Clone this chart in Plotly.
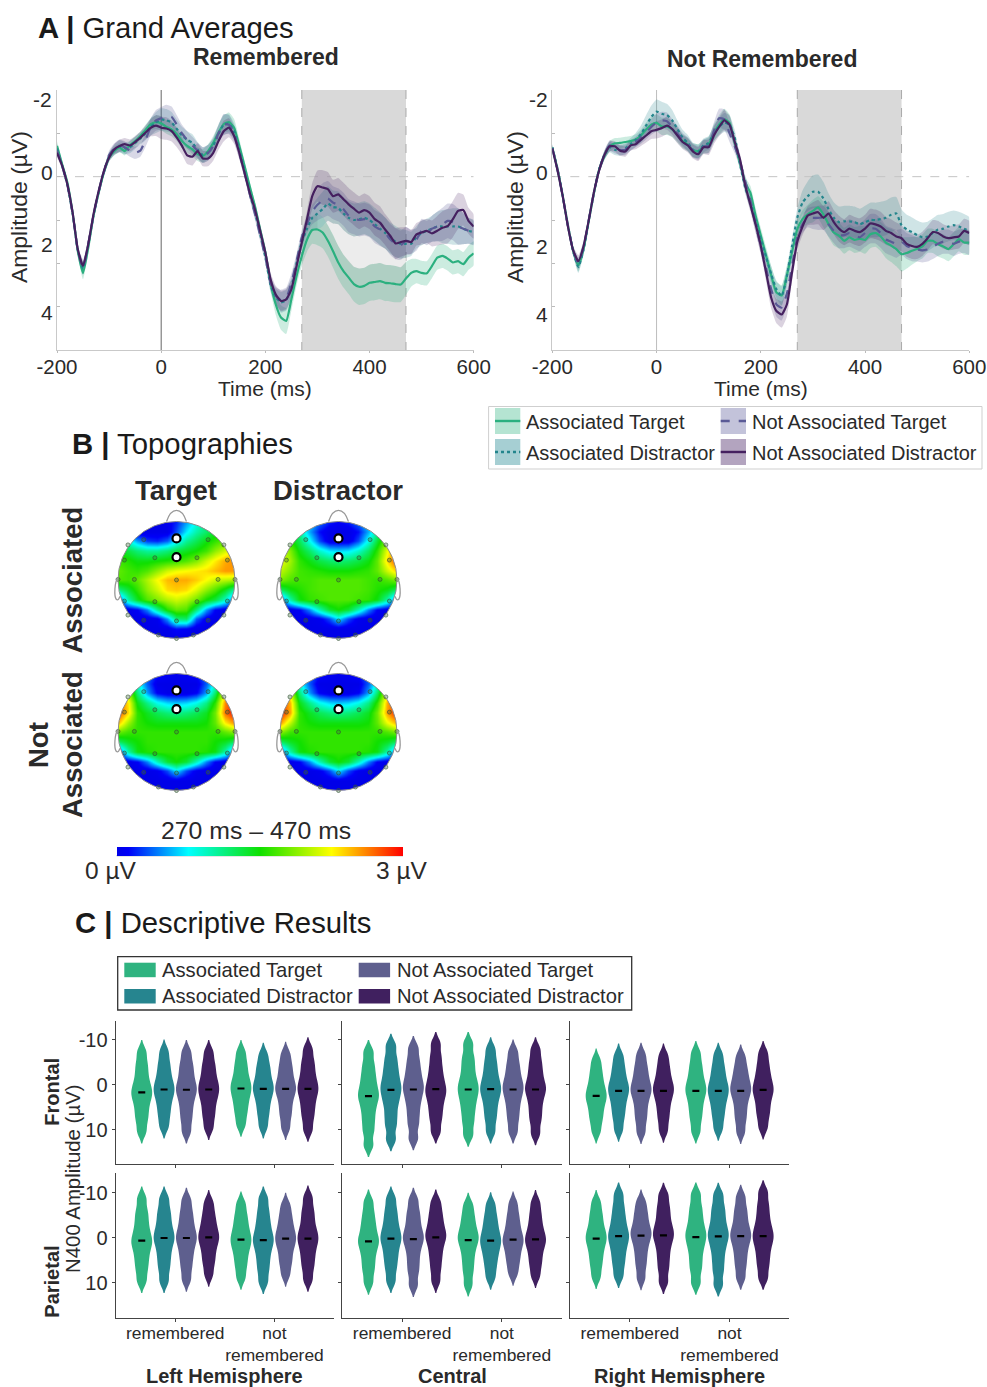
import math
import plotly.graph_objects as go

W, H = 987, 1387
FONT = "Liberation Sans"
INK = "#2a2a2a"

time_ms = list(range(-200, 601, 10))
time_ticks = [-200, 0, 200, 400, 600]
time_tick_labels = ["-200", "0", "200", "400", "600"]
window_start, window_end = 270, 470

rem_at = [-0.71,-0.28,0.14,0.83,1.72,2.22,1.64,0.91,0.37,-0.09,
          -0.44,-0.59,-0.67,-0.59,-0.73,-0.82,-0.94,-1.08,-1.21,-1.26,
          -1.23,-1.15,-1.09,-0.98,-0.82,-0.71,-0.63,-0.52,-0.48,-0.59,
          -0.78,-1.02,-1.21,-1.26,-1.13,-0.71,-0.25,0.22,0.68,1.22,
          1.75,2.45,2.95,3.25,3.33,2.83,2.29,1.83,1.45,1.23,
          1.22,1.29,1.48,1.72,1.98,2.18,2.33,2.48,2.54,2.52,
          2.45,2.43,2.41,2.45,2.46,2.48,2.49,2.35,2.22,2.18,
          2.22,2.23,2.06,1.87,1.83,1.89,1.98,1.95,2.02,1.87,1.77]
rem_ad = [-0.65,-0.25,0.2,0.85,1.7,2.12,1.58,0.9,0.35,-0.12,
          -0.46,-0.62,-0.7,-0.66,-0.68,-0.78,-0.88,-1.0,-1.15,-1.25,
          -1.32,-1.3,-1.25,-1.1,-0.95,-0.85,-0.78,-0.62,-0.5,-0.55,
          -0.72,-0.98,-1.2,-1.22,-1.05,-0.62,-0.15,0.38,0.82,1.32,
          1.85,2.5,2.78,2.9,2.85,2.55,2.0,1.5,1.2,0.95,
          0.85,0.75,0.62,0.7,0.72,0.85,0.95,1.0,0.98,0.95,
          1.0,1.1,1.2,1.3,1.42,1.5,1.55,1.55,1.55,1.4,
          1.3,1.25,1.2,1.15,1.15,1.15,1.15,1.15,1.2,1.25,1.28]
rem_nat = [-0.6,-0.25,0.2,0.85,1.7,2.1,1.55,0.9,0.35,-0.1,
           -0.5,-0.65,-0.72,-0.68,-0.6,-0.55,-0.6,-0.85,-1.15,-1.3,
           -1.35,-1.4,-1.38,-1.2,-1.0,-0.85,-0.72,-0.6,-0.5,-0.55,
           -0.7,-1.0,-1.2,-1.2,-1.0,-0.55,-0.1,0.4,0.85,1.35,
           1.85,2.45,2.75,2.85,2.8,2.45,1.95,1.4,1.1,0.8,
           0.65,0.55,0.5,0.6,0.65,0.75,0.9,0.95,1.0,0.98,
           1.02,1.15,1.22,1.3,1.45,1.55,1.58,1.48,1.5,1.45,
           1.25,1.3,1.2,1.15,1.1,1.02,1.05,1.15,1.2,1.25,1.3]
rem_nad = [-0.55,-0.25,0.18,0.83,1.68,2.06,1.56,0.87,0.33,-0.13,
           -0.44,-0.63,-0.71,-0.75,-0.72,-0.8,-0.9,-1.02,-1.13,-1.18,
           -1.13,-1.11,-1.05,-0.9,-0.71,-0.49,-0.46,-0.59,-0.42,-0.42,
           -0.55,-0.82,-1.05,-1.13,-0.94,-0.55,-0.09,0.37,0.75,1.25,
           1.75,2.37,2.72,2.87,2.83,2.6,2.06,1.52,0.98,0.45,
           0.22,0.25,0.29,0.45,0.41,0.52,0.64,0.74,0.83,0.77,
           0.83,0.98,1.06,1.22,1.37,1.54,1.51,1.48,1.51,1.33,
           1.29,1.25,1.31,1.25,1.18,1.14,0.98,0.79,0.77,1.02,1.15]

not_at = [-0.67,-0.17,0.44,1.13,1.71,2.05,1.67,1.02,0.37,-0.17,
          -0.48,-0.7,-0.77,-0.78,-0.8,-0.82,-0.86,-0.95,-1.09,-1.2,
          -1.24,-1.16,-1.16,-1.09,-0.97,-0.82,-0.74,-0.61,-0.59,-0.69,
          -0.74,-1.01,-1.2,-1.33,-1.24,-0.78,-0.32,0.14,0.37,0.9,
          1.36,1.82,2.28,2.67,2.74,2.28,1.74,1.21,0.98,0.87,
          0.79,0.71,0.87,1.1,1.29,1.36,1.48,1.4,1.46,1.43,
          1.46,1.33,1.3,1.38,1.52,1.59,1.67,1.79,1.76,1.71,
          1.67,1.61,1.48,1.48,1.56,1.61,1.67,1.56,1.44,1.52,1.52]
not_ad = [-0.68,-0.18,0.44,1.12,1.72,2.08,1.68,1.02,0.36,-0.18,
          -0.5,-0.68,-0.62,-0.6,-0.65,-0.75,-0.85,-0.98,-1.18,-1.38,
          -1.5,-1.45,-1.42,-1.3,-1.1,-0.9,-0.78,-0.62,-0.58,-0.72,
          -0.78,-1.0,-1.15,-1.25,-1.2,-0.9,-0.3,0.25,0.6,1.0,
          1.45,1.85,2.25,2.6,2.75,2.3,1.6,0.95,0.6,0.45,
          0.35,0.35,0.5,0.75,0.95,1.05,1.03,1.03,1.05,1.1,
          1.05,1.0,1.0,0.98,0.95,0.88,0.85,1.12,1.22,1.28,
          1.35,1.4,1.38,1.3,1.22,1.2,1.15,1.12,1.15,1.2,1.25]
not_nat = [-0.66,-0.16,0.45,1.14,1.7,2.0,1.62,1.0,0.36,-0.15,
           -0.5,-0.72,-0.66,-0.62,-0.62,-0.72,-0.8,-0.9,-1.02,-1.15,
           -1.25,-1.3,-1.28,-1.15,-1.0,-0.85,-0.75,-0.6,-0.55,-0.7,
           -0.72,-1.05,-1.35,-1.32,-1.0,-0.7,-0.35,0.1,0.55,1.1,
           1.6,2.1,2.6,2.95,3.02,2.7,2.05,1.4,1.1,0.95,
           0.95,0.95,0.95,1.1,1.25,1.35,1.35,1.3,1.35,1.4,
           1.3,1.2,1.2,1.3,1.45,1.5,1.55,1.5,1.6,1.65,
           1.68,1.7,1.68,1.62,1.55,1.5,1.5,1.55,1.5,1.48,1.52]
not_nad = [-0.65,-0.15,0.45,1.15,1.7,1.95,1.6,1.0,0.35,-0.15,
           -0.5,-0.7,-0.7,-0.6,-0.58,-0.72,-0.75,-0.85,-0.95,-1.05,
           -1.08,-1.12,-1.18,-1.1,-0.95,-0.8,-0.72,-0.58,-0.52,-0.68,
           -0.68,-0.95,-1.15,-1.3,-1.2,-0.8,-0.4,0.2,0.65,1.1,
           1.6,2.2,2.8,3.1,3.18,2.95,2.2,1.5,1.15,0.9,
           0.85,0.82,0.95,0.85,1.05,1.2,1.28,1.2,1.25,1.28,
           1.2,1.08,1.1,1.15,1.25,1.3,1.38,1.42,1.55,1.6,
           1.62,1.55,1.42,1.28,1.3,1.38,1.42,1.4,1.38,1.25,1.3]

sem_rem_green = [.1,.08,.08,.08,.1,.15,.12,.1,.08,.08,
                 .08,.1,.1,.1,.1,.1,.1,.12,.14,.16,
                 .16,.16,.16,.16,.16,.16,.16,.16,.16,.16,
                 .16,.18,.2,.22,.2,.16,.12,.1,.1,.12,
                 .14,.18,.24,.28,.3,.26,.22,.22,.28,.32,
                 .36,.36,.36,.38,.38,.38,.38,.4,.42,.42,
                 .42,.42,.42,.42,.42,.42,.4,.38,.32,.28,
                 .28,.28,.28,.28,.28,.28,.28,.28,.28,.28,.28]
sem_rem_other = [.1,.08,.08,.08,.1,.15,.12,.1,.08,.08,
                 .1,.12,.14,.14,.14,.14,.14,.16,.2,.24,
                 .26,.26,.24,.22,.2,.2,.2,.18,.18,.18,
                 .18,.2,.24,.22,.18,.14,.12,.12,.14,.14,
                 .14,.16,.2,.24,.24,.22,.18,.16,.2,.3,
                 .36,.4,.4,.38,.38,.38,.38,.38,.38,.38,
                 .38,.38,.38,.36,.36,.36,.34,.32,.28,.26,
                 .28,.28,.3,.34,.38,.4,.42,.42,.36,.3,.28]
sem_not_green = [.08,.08,.08,.08,.1,.14,.12,.08,.08,.08,
                 .1,.12,.12,.12,.12,.12,.12,.14,.16,.18,
                 .2,.2,.2,.18,.18,.16,.16,.16,.16,.16,
                 .18,.2,.22,.24,.2,.16,.14,.14,.16,.18,
                 .18,.2,.22,.24,.24,.22,.2,.18,.2,.22,
                 .26,.26,.3,.3,.3,.3,.3,.3,.3,.3,
                 .32,.32,.32,.34,.36,.38,.4,.4,.36,.32,
                 .28,.28,.28,.28,.28,.28,.28,.28,.28,.28,.28]
sem_not_dotted = [.08,.08,.08,.08,.1,.14,.12,.08,.08,.08,
                  .1,.12,.12,.12,.12,.14,.16,.2,.24,.26,
                  .28,.28,.26,.24,.2,.18,.18,.16,.16,.16,
                  .16,.18,.2,.22,.22,.18,.14,.14,.16,.16,
                  .16,.16,.18,.2,.22,.22,.2,.22,.28,.34,
                  .38,.4,.38,.36,.36,.36,.36,.36,.36,.36,
                  .38,.4,.4,.4,.4,.4,.38,.36,.34,.34,
                  .34,.34,.34,.34,.34,.34,.34,.34,.34,.34,.32]
sem_not_other = [.08,.08,.08,.08,.1,.14,.12,.08,.08,.08,
                 .1,.12,.12,.12,.12,.12,.12,.14,.16,.18,
                 .2,.2,.2,.18,.18,.16,.16,.16,.16,.16,
                 .18,.2,.22,.24,.2,.16,.14,.14,.16,.18,
                 .18,.2,.24,.28,.3,.28,.2,.18,.2,.22,
                 .26,.28,.28,.28,.28,.3,.3,.32,.32,.32,
                 .32,.34,.34,.34,.32,.32,.32,.3,.3,.3,
                 .28,.28,.28,.28,.28,.28,.28,.28,.28,.28,.28]

condition_names = ["Associated Target", "Associated Distractor",
                   "Not Associated Target", "Not Associated Distractor"]
line_colors = ["#2bb07f", "#23858c", "#5a5a96", "#45205f"]
band_colors = ["rgba(43,176,127,.24)", "rgba(35,133,140,.22)",
               "rgba(90,90,150,.24)", "rgba(69,32,95,.20)"]
swatch_colors = ["#b5e4d2", "#a6cfd3", "#c3c3da", "#b3a4bf"]
violin_colors = ["#2fb380", "#26858f", "#5e5f8e", "#40205f"]
line_dashes = ["solid", "dot", "dash", "solid"]

topo_y = [1, .833, .667, .5, .333, .167, 0, -.167, -.333, -.5, -.667, -.833, -1]
topo_x = [-1, -.833, -.667, -.5, -.333, -.167, 0, .167, .333, .5, .667, .833, 1]
topo_target_assoc = [
 [0,0,0,0,0,.05,.2,.5,.8,1.1,1.3,1.4,1.4],
 [.3,.15,0,0,0,0,.3,.7,1.0,1.2,1.4,1.5,1.6],
 [1.0,.85,.5,.25,.2,.35,.7,1.05,1.25,1.45,1.6,1.75,1.9],
 [1.45,1.3,1.15,1.05,1.05,1.15,1.3,1.4,1.5,1.65,1.9,2.1,2.3],
 [1.65,1.55,1.45,1.45,1.5,1.55,1.6,1.7,1.85,2.1,2.3,2.5,2.6],
 [1.75,1.65,1.6,1.7,1.9,2.1,2.2,2.25,2.3,2.35,2.45,2.55,2.55],
 [1.7,1.65,1.75,2.0,2.25,2.45,2.5,2.5,2.4,2.25,2.1,2.05,2.0],
 [1.1,1.35,1.6,1.9,2.1,2.35,2.4,2.35,2.15,1.9,1.7,1.4,1.0],
 [.2,1.0,1.4,1.7,1.85,2.0,2.1,2.0,1.8,1.5,1.3,.9,.2],
 [0,0,.1,.45,1.05,1.55,1.75,1.7,1.15,.5,.1,0,0],
 [0,0,0,0,.05,.5,1.15,1.2,.35,.05,0,0,0],
 [0,0,0,0,0,0,.15,.1,0,0,0,0,0],
 [0,0,0,0,0,0,0,0,0,0,0,0,0]]
topo_distr_assoc = [
 [1.4,1.3,1.1,.7,.4,.2,.1,.2,.4,.7,1.1,1.3,1.4],
 [1.5,1.35,1.05,.55,.15,0,0,0,.15,.55,1.05,1.4,1.7],
 [1.8,1.55,1.25,.8,.3,0,0,0,.3,.8,1.35,1.85,2.4],
 [2.1,1.85,1.45,1.2,.9,.7,.65,.7,.9,1.2,1.6,2.2,2.75],
 [2.2,1.95,1.6,1.45,1.3,1.2,1.15,1.2,1.3,1.45,1.75,2.35,2.85],
 [2.05,1.85,1.65,1.6,1.55,1.5,1.5,1.5,1.55,1.6,1.75,2.1,2.4],
 [1.85,1.7,1.65,1.65,1.7,1.7,1.7,1.7,1.7,1.65,1.6,1.7,1.85],
 [1.2,1.45,1.55,1.65,1.7,1.7,1.7,1.7,1.7,1.65,1.55,1.45,1.2],
 [.2,1.0,1.45,1.6,1.65,1.7,1.7,1.7,1.65,1.6,1.45,1.0,.2],
 [0,0,.1,.45,.95,1.35,1.5,1.35,.95,.45,.1,0,0],
 [0,0,0,0,.05,.3,.7,.3,.05,0,0,0,0],
 [0,0,0,0,0,0,0,0,0,0,0,0,0],
 [0,0,0,0,0,0,0,0,0,0,0,0,0]]
topo_target_not = [
 [1.4,1.3,.95,.4,.2,.1,.05,.1,.2,.4,.95,1.3,1.4],
 [1.7,1.45,.85,.35,0,0,0,0,0,.35,.85,1.6,2.1],
 [2.4,1.95,1.15,.5,.1,0,0,0,.1,.5,1.2,2.3,2.8],
 [2.8,2.3,1.45,1.1,.8,.65,.6,.65,.8,1.1,1.6,2.6,3.0],
 [2.8,2.35,1.6,1.4,1.25,1.15,1.1,1.15,1.25,1.4,1.8,2.7,3.0],
 [2.45,1.95,1.6,1.5,1.45,1.45,1.45,1.45,1.45,1.5,1.75,2.3,2.6],
 [1.8,1.65,1.6,1.6,1.6,1.6,1.6,1.6,1.6,1.6,1.6,1.75,1.9],
 [1.2,1.4,1.5,1.6,1.6,1.6,1.6,1.6,1.6,1.6,1.5,1.4,1.2],
 [.2,1.0,1.45,1.55,1.6,1.6,1.6,1.6,1.6,1.55,1.45,1.0,.2],
 [0,0,.1,.45,.95,1.35,1.5,1.35,.95,.45,.1,0,0],
 [0,0,0,0,.05,.3,.7,.3,.05,0,0,0,0],
 [0,0,0,0,0,0,0,0,0,0,0,0,0],
 [0,0,0,0,0,0,0,0,0,0,0,0,0]]
topo_distr_not = [
 [1.4,1.3,.95,.4,.2,.1,.05,.1,.2,.4,.95,1.3,1.4],
 [1.8,1.5,.85,.35,0,0,0,0,0,.35,.85,1.55,2.0],
 [2.6,2.1,1.15,.5,.1,0,0,0,.1,.5,1.2,2.2,2.7],
 [2.9,2.45,1.45,1.1,.8,.65,.6,.65,.8,1.1,1.6,2.5,2.9],
 [2.95,2.5,1.6,1.4,1.25,1.15,1.1,1.15,1.25,1.4,1.8,2.55,2.95],
 [2.55,2.05,1.6,1.5,1.45,1.45,1.45,1.45,1.45,1.5,1.75,2.2,2.5],
 [1.9,1.65,1.6,1.6,1.6,1.6,1.6,1.6,1.6,1.6,1.6,1.7,1.85],
 [1.2,1.4,1.5,1.6,1.6,1.6,1.6,1.6,1.6,1.6,1.5,1.4,1.2],
 [.2,1.0,1.45,1.55,1.6,1.6,1.6,1.6,1.6,1.55,1.45,1.0,.2],
 [0,0,.1,.45,.95,1.35,1.5,1.35,.95,.45,.1,0,0],
 [0,0,0,0,.05,.3,.7,.3,.05,0,0,0,0],
 [0,0,0,0,0,0,0,0,0,0,0,0,0],
 [0,0,0,0,0,0,0,0,0,0,0,0,0]]
electrode_x = [-.56,.54,-.83,.81,-.89,-.37,.35,.87,-1,-.72,0,.71,1,-.89,-.37,.35,.87,-.83,.81,-.56,.54,0,-.31,.29,0]
electrode_y = [.69,.69,.6,.6,.34,.38,.38,.34,.01,.01,0,.01,.01,-.36,-.37,-.37,-.36,-.6,-.6,-.69,-.69,-.7,-.94,-.94,-1]
roi_x = [0, 0]
roi_y = [.71, .39]

group_positions = [1, 2]
group_labels = ["remembered", "not<br>remembered"]
dodge_offsets = [-.3375, -.1125, .1125, .3375]

means_frontal_left = [1.7,1.04,1.1,1.04,.82,.89,.89,.89]
means_frontal_central = [2.53,1.12,1.04,.97,1.04,.97,1.04,1.04]
means_frontal_right = [2.45,1.34,1.34,1.34,1.34,1.34,1.34,1.12]
means_parietal_left = [.67,.07,.07,-.07,.45,.52,.22,.22]
means_parietal_central = [.82,.22,.3,-.07,.52,.67,.45,.37]
means_parietal_right = [.22,-.37,-.45,-.52,-.15,-.3,-.37,-.37]

samples_frontal_left = [
 [-7.4,-4.9,-2.9,-1.0,.5,1.7,2.8,4.3,6.1,8.0,10.5],
 [-7.5,-5.1,-3.2,-1.5,-.1,1.0,2.1,3.5,5.2,7.1,9.4],
 [-7.4,-5.0,-3.2,-1.5,0,1.1,2.3,3.9,5.8,7.9,10.5],
 [-7.4,-5.0,-3.2,-1.5,-.1,1.0,2.2,3.6,5.4,7.3,9.7],
 [-7.4,-5.1,-3.3,-1.6,-.3,.8,1.9,3.3,4.9,6.7,9.0],
 [-6.8,-4.6,-3.0,-1.4,-.1,.9,2.0,3.4,5.1,7.0,9.4],
 [-7.0,-4.8,-3.1,-1.5,-.1,.9,2.0,3.5,5.3,7.2,9.7],
 [-8.0,-5.5,-3.6,-1.8,-.3,.9,2.1,3.7,5.5,7.5,10.1]]
samples_frontal_central = [
 [-7.4,-4.6,-2.4,-.5,1.2,2.5,3.9,5.8,8.0,10.4,13.5],
 [-8.8,-6.0,-3.8,-1.9,-.2,1.1,2.6,4.4,6.7,9.1,12.2],
 [-8.3,-5.7,-3.6,-1.8,-.2,1.0,2.5,4.3,6.5,8.9,12.0],
 [-9.2,-6.4,-4.1,-2.1,-.4,1.0,2.2,3.8,5.7,7.8,10.5],
 [-9.2,-6.3,-4.1,-2.0,-.3,1.0,2.4,4.1,6.1,8.4,11.2],
 [-8.0,-5.5,-3.5,-1.7,-.2,1.0,2.2,3.8,5.7,7.8,10.5],
 [-7.5,-5.1,-3.2,-1.5,-.1,1.0,2.3,3.9,5.8,7.9,10.5],
 [-8.0,-5.5,-3.5,-1.7,-.1,1.0,2.3,4.0,6.0,8.1,10.9]]
samples_frontal_right = [
 [-5.5,-3.3,-1.5,.1,1.4,2.5,3.5,4.9,6.5,8.2,10.5],
 [-6.6,-4.4,-2.6,-1.0,.3,1.3,2.5,4.0,5.7,7.6,10.1],
 [-6.8,-4.5,-2.7,-1.1,.3,1.3,2.5,4.1,6.0,8.0,10.6],
 [-6.6,-4.4,-2.6,-1.0,.3,1.3,2.5,4.0,5.8,7.8,10.3],
 [-7.2,-4.8,-2.9,-1.2,.2,1.3,2.5,4.1,5.9,7.9,10.5],
 [-6.8,-4.5,-2.7,-1.1,.3,1.3,2.5,3.9,5.6,7.5,9.9],
 [-6.4,-4.2,-2.5,-1.0,.3,1.3,2.5,4.1,6.0,8.0,10.6],
 [-7.2,-4.9,-3.0,-1.4,0,1.1,2.2,3.7,5.4,7.2,9.6]]
samples_parietal_left = [
 [-8.8,-6.1,-4.1,-2.2,-.6,.7,1.8,3.4,5.2,7.2,9.7],
 [-8.8,-6.3,-4.4,-2.6,-1.1,.1,1.3,3.0,4.9,7.0,9.7],
 [-8.5,-6.1,-4.2,-2.5,-1.0,.1,1.3,2.9,4.7,6.8,9.4],
 [-8.0,-5.8,-4.0,-2.5,-1.1,-.1,1.0,2.4,4.1,5.9,8.3],
 [-7.7,-5.4,-3.6,-2.0,-.6,.5,1.6,3.0,4.7,6.6,9.0],
 [-8.8,-6.2,-4.1,-2.3,-.7,.5,1.7,3.3,5.2,7.3,9.9],
 [-7.4,-5.3,-3.6,-2.1,-.8,.2,1.3,2.6,4.3,6.0,8.3],
 [-9.0,-6.4,-4.4,-2.5,-1.0,.2,1.4,3.0,4.8,6.8,9.4]]
samples_parietal_central = [
 [-8.1,-5.6,-3.6,-1.9,-.3,.8,2.0,3.6,5.5,7.5,10.1],
 [-8.8,-6.3,-4.3,-2.5,-1.0,.2,1.4,3.1,4.9,7.0,9.7],
 [-8.5,-6.0,-4.1,-2.3,-.8,.3,1.6,3.4,5.5,7.7,10.6],
 [-8.1,-5.9,-4.1,-2.5,-1.1,-.1,1.2,2.9,4.8,7.0,9.7],
 [-7.4,-5.2,-3.4,-1.8,-.5,.5,1.8,3.5,5.5,7.7,10.5],
 [-7.5,-5.2,-3.4,-1.8,-.4,.7,1.8,3.2,4.8,6.7,9.0],
 [-7.7,-5.4,-3.6,-2.0,-.6,.5,1.4,2.8,4.3,6.0,8.1],
 [-8.0,-5.7,-3.8,-2.1,-.7,.4,1.4,2.8,4.5,6.3,8.6]]
samples_parietal_right = [
 [-8.0,-5.7,-3.9,-2.2,-.9,.2,1.3,2.8,4.5,6.4,8.8],
 [-9.7,-7.1,-5.0,-3.2,-1.6,-.4,.8,2.3,4.1,6.1,8.6],
 [-8.1,-6.0,-4.3,-2.7,-1.4,-.5,.8,2.4,4.3,6.4,9.1],
 [-9.6,-7.1,-5.1,-3.2,-1.7,-.5,.8,2.6,4.7,7.0,9.9],
 [-9.7,-7.0,-4.9,-3.0,-1.4,-.2,1.2,2.9,5.0,7.2,10.1],
 [-9.6,-7.0,-5.0,-3.1,-1.5,-.3,1.1,2.9,5.1,7.5,10.5],
 [-9.2,-6.7,-4.8,-3.0,-1.5,-.4,.8,2.4,4.3,6.4,9.0],
 [-10.2,-7.5,-5.3,-3.3,-1.7,-.4,.8,2.4,4.3,6.4,9.0]]

fig = go.Figure()
shapes, annos = [], []
layout = {}

def px(x): return x / W
def py(y): return 1 - y / H

def text(s, x, y, size, bold=False, rot=0, anchor="center", color=INK):
    annos.append(dict(text=f"<b>{s}</b>" if bold else s, x=px(x), y=py(y), xref="paper", yref="paper",
                      showarrow=False, xanchor=anchor, yanchor="middle", textangle=rot,
                      font=dict(family=FONT, size=size, color=color)))

def axes(n, l, r, t, b, xcfg, ycfg):
    layout[f"xaxis{n}"] = dict(domain=[px(l), px(r)], anchor=f"y{n}", **xcfg)
    layout[f"yaxis{n}"] = dict(domain=[py(b), py(t)], anchor=f"x{n}", **ycfg)

# ---------- Panel A ----------
erp_x = dict(range=[-200, 600], tickvals=time_ticks, ticktext=time_tick_labels, showgrid=False, zeroline=False,
             showline=True, linecolor="#c9c9c9", linewidth=1, ticks="outside", ticklen=2, tickcolor="#bbb", tickangle=0,
             ticklabelstandoff=-4, tickfont=dict(family=FONT, size=20.5, color=INK))
erp_y = dict(range=[4, -2], tickvals=[-2, -1, 0, 1, 2, 3, 4], showgrid=False, zeroline=False,
             showline=True, linecolor="#c9c9c9", linewidth=1, ticks="inside", ticklen=3, tickcolor="#bbb",
             showticklabels=False)
panels = [(1, 57, 473.7, [rem_at, rem_ad, rem_nat, rem_nad],
           [sem_rem_green, sem_rem_other, sem_rem_other, sem_rem_other], "#666666"),
          (2, 552.3, 969.3, [not_at, not_ad, not_nat, not_nad],
           [sem_not_green, sem_not_dotted, sem_not_other, sem_not_other], "#bdbdbd")]
for n, l, r, series, sems, zero_col in panels:
    axes(n, l, r, 90, 350, erp_x, erp_y)
    xr, yr = ("x" if n == 1 else f"x{n}"), ("y" if n == 1 else f"y{n}")
    layout[f"xaxis{n}"]["anchor"] = yr
    layout[f"yaxis{n}"]["anchor"] = xr
    shapes.append(dict(type="rect", xref=xr, yref=yr, x0=window_start, x1=window_end, y0=-2, y1=4,
                       fillcolor="#d9d9d9", line=dict(width=0), layer="below"))
    for wx in (window_start, window_end):
        shapes.append(dict(type="line", xref=xr, yref=yr, x0=wx, x1=wx, y0=-2, y1=4, layer="below",
                           line=dict(color="#aaaaaa", width=1, dash="dash")))
    shapes.append(dict(type="line", xref=xr, yref=yr, x0=0, x1=0, y0=-2, y1=4, layer="below",
                       line=dict(color=zero_col, width=1)))
    shapes.append(dict(type="line", xref=xr, yref=yr, x0=-200, x1=600, y0=0, y1=0, layer="below",
                       line=dict(color="#c4c4c4", width=1, dash="dash")))
    if n == 1:
        idx = [i for i, t in enumerate(time_ms) if 300 <= t <= window_end]
        gap_t = [time_ms[i] for i in idx]
        gap_hi = [rem_ad[i] + sem_rem_other[i] for i in idx]
        gap_lo = [rem_at[i] - sem_rem_green[i] for i in idx]
        fig.add_trace(go.Scatter(x=gap_t + gap_t[::-1], y=gap_hi + gap_lo[::-1], fill="toself",
                                 fillcolor="rgba(255,255,255,.5)", mode="lines", line=dict(width=0),
                                 hoverinfo="skip", showlegend=False, xaxis=xr, yaxis=yr))
    for vals, sem, bc in zip(series, sems, band_colors):
        up = [v - s for v, s in zip(vals, sem)]
        lo = [v + s for v, s in zip(vals, sem)]
        fig.add_trace(go.Scatter(x=time_ms + time_ms[::-1], y=up + lo[::-1], fill="toself", fillcolor=bc,
                                 mode="lines", line=dict(width=0, shape="spline", smoothing=.5),
                                 hoverinfo="skip", showlegend=False, xaxis=xr, yaxis=yr))
    for vals, col, dash, name in zip(series, line_colors, line_dashes, condition_names):
        fig.add_trace(go.Scatter(x=time_ms, y=vals, mode="lines", name=name, showlegend=False,
                                 line=dict(color=col, width=2.2, dash=dash, shape="spline", smoothing=.5),
                                 xaxis=xr, yaxis=yr))

text("<b>A |</b> Grand Averages", 36, 27, 29.3, anchor="left", color="#1a1a1a")
text("Remembered", 265.5, 57, 23, bold=True)
text("Not Remembered", 762, 59, 23, bold=True)
text("Time (ms)", 265, 388, 21)
text("Time (ms)", 761, 388, 21)
text("Amplitude (µV)", 19, 207, 22.9, rot=-90)
text("Amplitude (µV)", 515, 207, 22.9, rot=-90)
for lab, lx, ly, rx, ry in [("-2", 42, 99, 538, 99), ("0", 47, 172.5, 541.7, 172),
                            ("2", 47, 245, 541.7, 246), ("4", 46.7, 313, 541.7, 314)]:
    text(lab, lx, ly, 21)
    text(lab, rx, ry, 21)

# legend A
shapes.append(dict(type="rect", xref="paper", yref="paper", x0=px(488.6), x1=px(982), y0=py(469), y1=py(406.5),
                   line=dict(color="#cfcfcf", width=1), fillcolor="white"))
for (sx, sy, tx), name, sc, lc, dash in zip([(495, 408, 524), (495, 439, 524), (720.7, 408, 749.7), (720.7, 439, 749.7)],
                                            condition_names, swatch_colors, line_colors, line_dashes):
    shapes.append(dict(type="rect", xref="paper", yref="paper", x0=px(sx), x1=px(sx + 25.3), y0=py(sy + 26), y1=py(sy),
                       fillcolor=sc, line=dict(width=0)))
    shapes.append(dict(type="line", xref="paper", yref="paper", x0=px(sx), x1=px(sx + 25.3), y0=py(sy + 13), y1=py(sy + 13),
                       line=dict(color=lc, width=2.4, dash=dash)))
    text(name, tx, sy + 13.5, 20, anchor="left")

# ---------- Panel B ----------
text("<b>B |</b> Topographies", 70, 443, 29.3, anchor="left", color="#1a1a1a")
text("Target", 175.5, 490, 27.5, bold=True)
text("Distractor", 338, 490, 27.5, bold=True)
text("Associated", 72, 580.5, 27.5, bold=True, rot=-90)
text("Not", 38, 745, 27.5, bold=True, rot=-90)
text("Associated", 72, 745, 27.5, bold=True, rot=-90)
text("270 ms – 470 ms", 256, 830, 24.8)
text("0 µV", 110.7, 870, 24.5)
text("3 µV", 402, 870, 24.5)

HEAD_R = 58.5
RANGE = 1.25
head_span = HEAD_R * RANGE
hidden = dict(visible=False, range=[-RANGE, RANGE], fixedrange=True)
heads = [(3, 176.5, 580, topo_target_assoc), (4, 338.5, 580, topo_distr_assoc),
         (5, 176.5, 732, topo_target_not), (6, 338.5, 732, topo_distr_not)]
M = 1.12
for n, cx, cy, z in heads:
    axes(n, cx - head_span, cx + head_span, cy - head_span, cy + head_span, hidden, hidden)
    fig.add_trace(go.Heatmap(x=topo_x, y=topo_y, z=z, zsmooth="best", coloraxis="coloraxis",
                             hoverinfo="skip", xaxis=f"x{n}", yaxis=f"y{n}"))
    ring = [i * 2 * math.pi / 180 for i in range(181)]
    mx = [M, M, -M, -M, M, M, 1.0] + [math.cos(a) for a in ring[1:]]
    my = [0, M, M, -M, -M, 0, 0] + [-math.sin(a) for a in ring[1:]]
    fig.add_trace(go.Scatter(x=mx, y=my, mode="lines", fill="toself", fillcolor="white", line=dict(width=0),
                             hoverinfo="skip", showlegend=False, xaxis=f"x{n}", yaxis=f"y{n}"))
    fig.add_trace(go.Scatter(x=electrode_x, y=electrode_y, mode="markers", hoverinfo="skip", showlegend=False,
                             marker=dict(size=4, color="rgba(60,110,60,.35)", line=dict(color="rgba(50,80,50,.6)", width=1)),
                             xaxis=f"x{n}", yaxis=f"y{n}"))
    fig.add_trace(go.Scatter(x=roi_x, y=roi_y, mode="markers", hoverinfo="skip", showlegend=False,
                             marker=dict(size=8, color="white", line=dict(color="black", width=2.2)),
                             xaxis=f"x{n}", yaxis=f"y{n}"))
    xr, yr = f"x{n}", f"y{n}"
    outline = dict(color="#8c8c8c", width=1)
    outline2 = dict(color="#999999", width=1.3)
    shapes.append(dict(type="circle", xref=xr, yref=yr, x0=-1, x1=1, y0=-1, y1=1, line=outline))
    shapes.append(dict(type="path", xref=xr, yref=yr, line=outline2,
                       path="M -0.17 1.0 C -0.13 1.12 -0.08 1.19 0 1.19 C 0.08 1.19 0.13 1.12 0.17 1.0"))
    shapes.append(dict(type="path", xref=xr, yref=yr, line=outline2,
                       path="M -1.0 0.03 C -1.06 -0.02 -1.07 -0.28 -1.03 -0.33 C -1.0 -0.36 -0.98 -0.32 -0.97 -0.28"))
    shapes.append(dict(type="path", xref=xr, yref=yr, line=outline2,
                       path="M 1.0 0.03 C 1.06 -0.02 1.07 -0.28 1.03 -0.33 C 1.0 -0.36 0.98 -0.32 0.97 -0.28"))
layout["coloraxis"] = dict(cmin=0, cmax=3,
    colorscale=[[0, "#0000e8"], [.04, "#0000f8"], [.25, "#00ffff"], [.5, "#10e000"], [.75, "#ffff00"], [1, "#ff0000"]],
    colorbar=dict(orientation="h", x=px(116.7), xanchor="left", y=py(847), yanchor="top", len=286.3, lenmode="pixels",
                  thickness=8.5, thicknessmode="pixels", outlinewidth=0, ticks="", showticklabels=False,
                  xpad=0, ypad=0))
shapes.append(dict(type="line", xref="paper", yref="paper", x0=px(116.7), x1=px(403), y0=py(855.7), y1=py(855.7),
                   line=dict(color="#777777", width=1)))

# ---------- Panel C ----------
text("<b>C |</b> Descriptive Results", 73, 922, 29.3, anchor="left", color="#1a1a1a")
shapes.append(dict(type="rect", xref="paper", yref="paper", x0=px(117.7), x1=px(631.7), y0=py(1010), y1=py(956.7),
                   line=dict(color="#333", width=1.3), fillcolor="white"))
for (sx, sy, tx), name, col in zip([(124.3, 962.7, 160.3), (124.3, 989, 160.3), (358.7, 962.7, 394.7), (358.7, 989, 394.7)],
                                   condition_names, violin_colors):
    shapes.append(dict(type="rect", xref="paper", yref="paper", x0=px(sx), x1=px(sx + 31.4), y0=py(sy + 14.5), y1=py(sy),
                       fillcolor=col, line=dict(width=0)))
    text(name, tx, sy + 7, 20.2, anchor="left")

violin_x = dict(range=[.4, 2.6], tickvals=group_positions, ticktext=group_labels, showgrid=False, zeroline=False,
                showline=True, linecolor="#444", linewidth=1.3, ticks="outside", ticklen=3, tickcolor="#444", tickangle=0,
                ticklabelstandoff=-4, tickfont=dict(family=FONT, size=17.4, color=INK))
violin_y = dict(showgrid=False, zeroline=False, tickvals=[-10, 0, 10], ticktext=["-10", "0", "10"],
                showline=True, linecolor="#444", linewidth=1.3, ticks="outside", ticklen=3, tickcolor="#444",
                tickfont=dict(family=FONT, size=20, color=INK))
columns = [(115.7, 334), (342.3, 561.7), (570, 789.3)]
rows = [(1020.7, 1164, [-14.3, 17.66]), (1173.3, 1317.7, [-14.33, 17.8])]
violin_data = [[(means_frontal_left, samples_frontal_left),
                (means_frontal_central, samples_frontal_central),
                (means_frontal_right, samples_frontal_right)],
               [(means_parietal_left, samples_parietal_left),
                (means_parietal_central, samples_parietal_central),
                (means_parietal_right, samples_parietal_right)]]
n = 7
for ri, (t, b, yrange) in enumerate(rows):
    for ci, (l, r) in enumerate(columns):
        xc = dict(violin_x)
        yc = dict(violin_y, range=yrange[::-1])
        if ri == 0:
            xc["showticklabels"] = False
        if ci > 0:
            yc["showticklabels"] = False
        axes(n, l, r, t, b, xc, yc)
        means, samples = violin_data[ri][ci]
        for i in range(8):
            pos = group_positions[i // 4] + dodge_offsets[i % 4]
            fig.add_trace(go.Violin(x0=pos, y=samples[i], width=.21, side="both", points=False,
                                    box_visible=False, meanline_visible=False, spanmode="soft", bandwidth=1.3,
                                    fillcolor=violin_colors[i % 4], line=dict(width=0), opacity=1,
                                    scalemode="width", showlegend=False, hoverinfo="skip",
                                    xaxis=f"x{n}", yaxis=f"y{n}"))
            fig.add_trace(go.Scatter(x=[pos], y=[means[i]], mode="markers", showlegend=False, hoverinfo="skip",
                                     marker=dict(symbol="line-ew", size=5, line=dict(color="black", width=2.2)),
                                     xaxis=f"x{n}", yaxis=f"y{n}"))
        n += 1

text("Frontal", 51.7, 1092, 20, bold=True, rot=-90)
text("Parietal", 51.7, 1282, 20, bold=True, rot=-90)
text("N400 Amplitude (µV)", 73, 1179, 20.4, rot=-90)
text("Left Hemisphere", 224.5, 1376, 20, bold=True)
text("Central", 452, 1376, 20, bold=True)
text("Right Hemisphere", 679.5, 1376, 20, bold=True)

fig.update_layout(width=W, height=H, margin=dict(l=0, r=0, t=0, b=0, autoexpand=False),
                  paper_bgcolor="white", plot_bgcolor="rgba(0,0,0,0)", showlegend=False,
                  violinmode="overlay", shapes=shapes, annotations=annos,
                  font=dict(family=FONT, color=INK), **layout)
fig.write_html("out.html", config={"displayModeBar": False},
               post_script="document.body.style.margin='0';document.documentElement.style.overflow='hidden';")
